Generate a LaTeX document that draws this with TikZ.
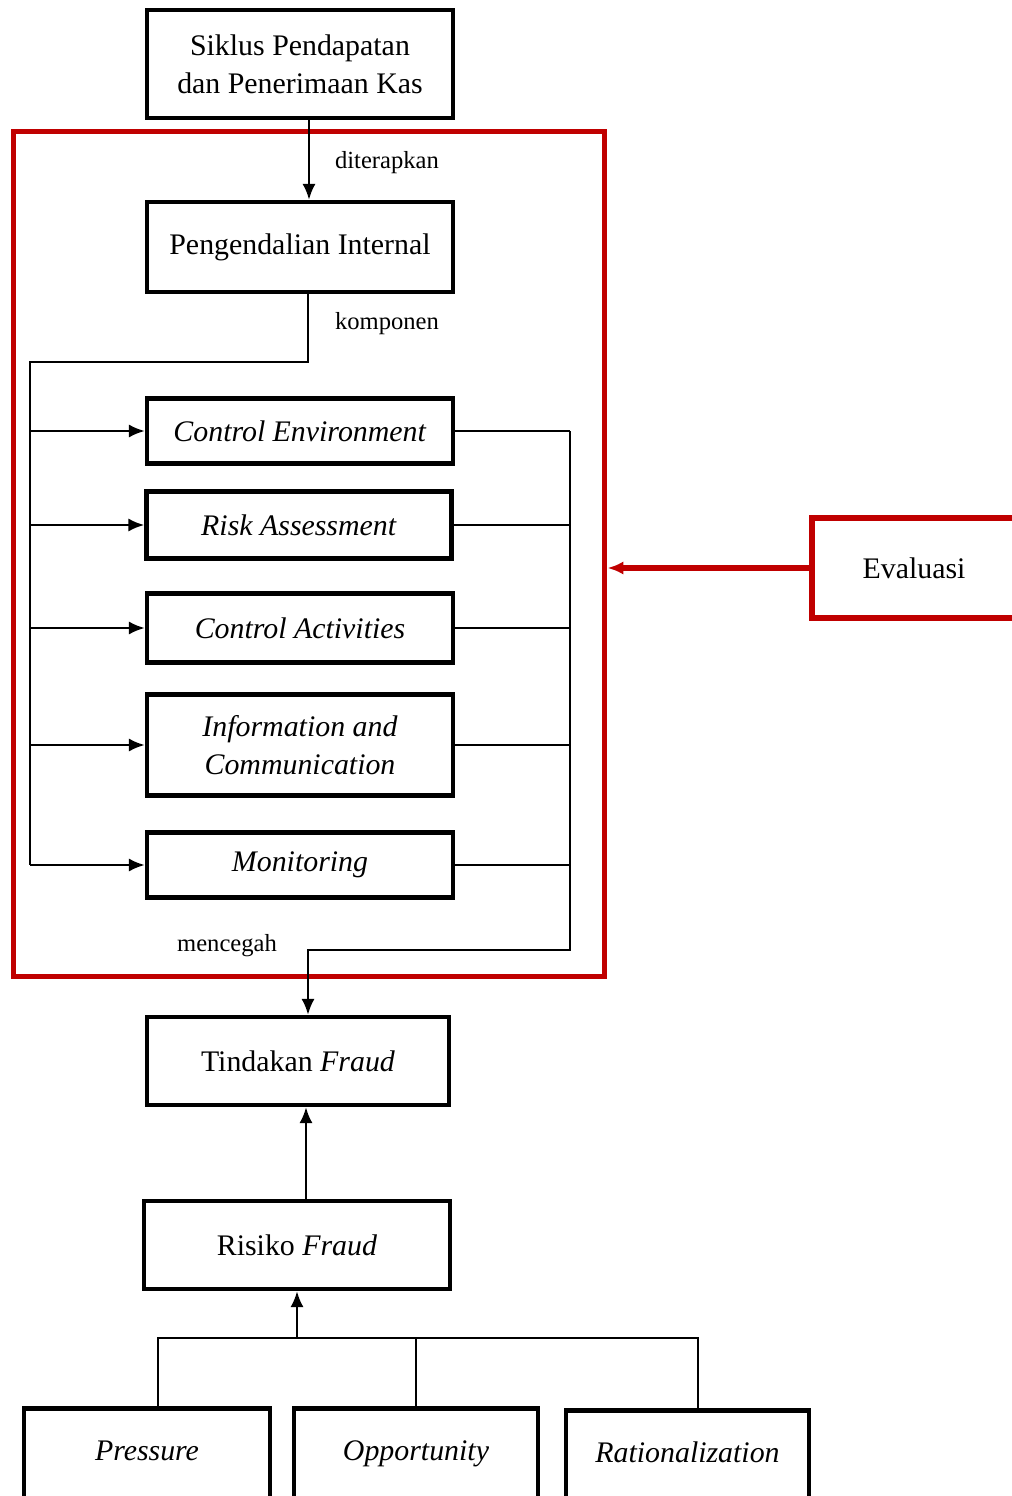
\documentclass[tikz,border=0pt]{standalone}
\usepackage{fontspec}
\setmainfont{Liberation Serif}
\usetikzlibrary{arrows.meta}
\definecolor{merah}{RGB}{192,0,0}
\begin{document}
\begin{tikzpicture}[x=.02cm,y=-.02cm,>={Latex[length=9pt,width=7.5pt]},
 kotak/.style={draw,line width=2.7pt,minimum width=6.12cm,align=center,font=\fontsize{17}{21.5}\selectfont},
 bawah/.style={kotak,anchor=north,inner sep=0pt,text height=1.04cm,text depth=1cm},
 ket/.style={font=\fontsize{14}{16}\selectfont},
 garis/.style={line width=1.2pt}]
\useasboundingbox (0,0) rectangle (1011,1496);
\node[draw=merah,line width=2.9pt,minimum width=11.84cm,minimum height=16.92cm] (bingkai) at (309,554) {};
\path (300,64) node[kotak,minimum height=2.16cm] (siklus) {Siklus Pendapatan\\dan Penerimaan Kas}
(300,247) node[kotak,minimum height=1.8cm] (internal) {Pengendalian Internal}
(300,431) node[kotak,minimum height=1.3cm] (env) {\textit{Control Environment}}
(299,525) node[kotak,minimum height=1.34cm,minimum width=6.1cm] (risk) {\textit{Risk Assessment}}
(300,628) node[kotak,minimum height=1.38cm] (act) {\textit{Control Activities}}
(300,745) node[kotak,minimum height=2.02cm] (info) {\textit{Information and}\\\textit{Communication}}
(300,865) node[kotak,minimum height=1.3cm] (mon) {\textit{Monitoring}}
(298,1061) node[kotak,minimum width=6.04cm,minimum height=1.76cm] (tindakan) {Tindakan \textit{Fraud}}
(297,1245) node[kotak,minimum height=1.76cm] (risiko) {Risiko \textit{Fraud}};
\path (147,1406) node[bawah,minimum width=4.92cm] (pressure) {\textit{Pressure}}
(416,1406) node[bawah,minimum width=4.88cm] (opport) {\textit{Opportunity}}
(687.5,1408) node[bawah,minimum width=4.86cm] (rasional) {\textit{Rationalization}};
\node[draw=merah,line width=2.9pt,minimum width=4.08cm,minimum height=2cm,font=\fontsize{17}{21.5}\selectfont] (eval) at (914,568) {Evaluasi};
\path (387,163) node[ket] (lbl1) {diterapkan} (387,324) node[ket] (lbl2) {komponen} (227,946) node[ket] (lbl3) {mencegah};
\coordinate (kiri) at (30,362); \coordinate (kanan) at (570,950); \coordinate (cabang) at (297,1338);
% alur atas
\draw[garis,->] ([xshift=.18cm]siklus.south) -- ([xshift=.18cm]siklus.south |- internal.north);
\draw[garis] ([xshift=.16cm]internal.south) |- (kiri) -- (kiri |- mon.west);
\foreach \k in {env,risk,act,info,mon} \draw[garis,->] (kiri |- \k.west) -- (\k.west);
\foreach \k in {env,risk,act,info,mon} \draw[garis] (\k.east) -- (kanan |- \k.east);
\draw[garis,->] (kanan |- env.east) -- (kanan) -| ([xshift=.2cm]tindakan.north);
\draw[merah,line width=3pt,->] (eval.west) -- (eval.west -| bingkai.east);
% alur bawah
\draw[garis,->] ([xshift=.18cm]risiko.north) -- ([xshift=.18cm]risiko.north |- tindakan.south);
\draw[garis] ([xshift=.22cm]pressure.north) |- (cabang) -| ([xshift=.21cm]rasional.north);
\draw[garis] (opport.north) -- (opport.north |- cabang);
\draw[garis,->] (cabang) -- (risiko.south);
\end{tikzpicture}
\end{document}
